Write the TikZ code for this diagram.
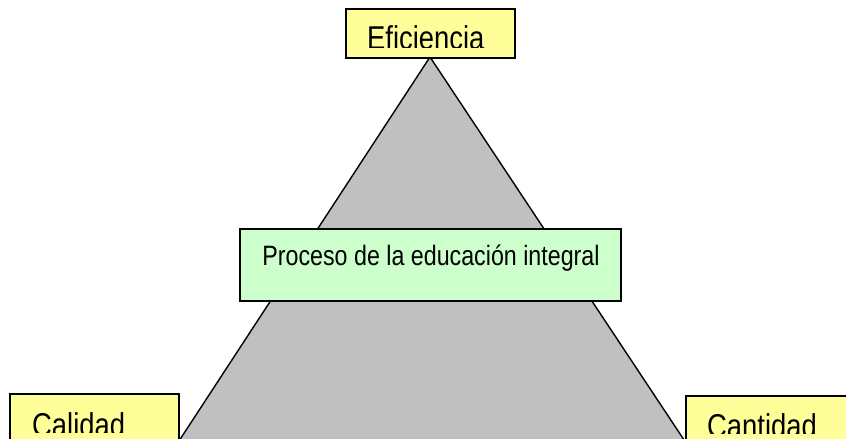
\documentclass[tikz,border=0pt]{standalone}
\usepackage{fontspec}
\setmainfont{Liberation Sans}[FakeStretch=0.83]
\definecolor{lblyellow}{HTML}{FFFF99}
\definecolor{procgreen}{HTML}{CCFFCC}
\definecolor{trigray}{HTML}{C0C0C0}
\begin{document}
\begin{tikzpicture}[x=1pt,y=-1pt,
  boxbase/.style={draw=black,line width=1.5pt,inner sep=0pt,anchor=north west},
  lblbox/.style={boxbase,fill=lblyellow},
  procbox/.style={boxbase,fill=procgreen},
  lbltext/.style={anchor=base west,inner sep=0pt,font=\fontsize{33}{36}\selectfont},
  proctext/.style={anchor=base,inner sep=0pt,font=\fontsize{28}{32}\selectfont}]
\useasboundingbox (0,0) rectangle (846,439);
\clip (0,0) rectangle (846,439);
\fill[white] (0,0) rectangle (846,439);
% triangle
\draw[fill=trigray,line width=1.4pt,line join=miter] (430,57) -- (160,470) -- (704,470) -- cycle;
% top label
\node[lblbox,minimum width=169pt,minimum height=49pt] (efbox) at (345,8) {};
\begin{scope}
\clip (345,8) rectangle (514,47);
\node[lbltext] (eftext) at (367,49) {Eficiencia};
\end{scope}
% left label
\node[lblbox,minimum width=169pt,minimum height=70pt] (calbox) at (9,393) {};
\begin{scope}
\clip (9,393) rectangle (178,432);
\node[lbltext] (caltext) at (32,436) {Calidad};
\end{scope}
% right label
\node[lblbox,minimum width=180pt,minimum height=70pt] (canbox) at (685,395) {};
\begin{scope}
\clip (685,395) rectangle (846,433);
\node[lbltext] (cantext) at (707,437) {Cantidad};
\end{scope}
% process box
\node[procbox,minimum width=381pt,minimum height=72pt] (procbox) at (239,228) {};
\node[proctext] (proctext) at (431,265) {Proceso de la educación integral};
\end{tikzpicture}
\end{document}
